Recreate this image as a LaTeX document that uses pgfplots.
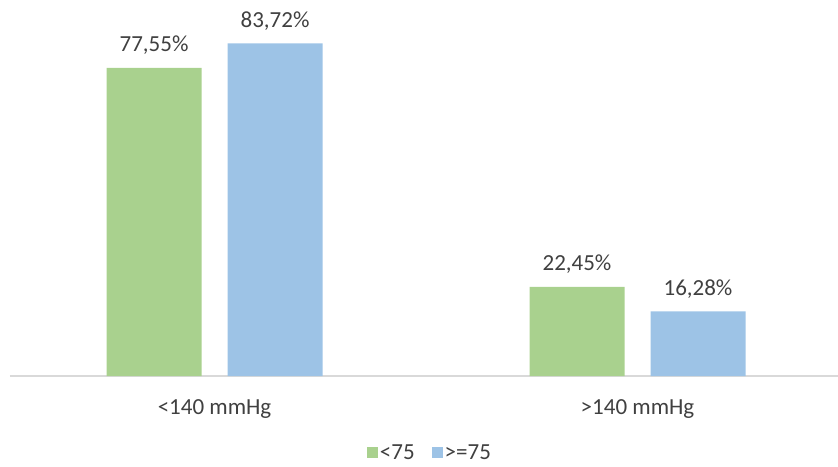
\documentclass[border=0pt]{standalone}
\usepackage{fontspec}
\setmainfont{Carlito}
\usepackage{pgfplots}
\pgfplotsset{compat=1.18}
\definecolor{bargreen}{HTML}{A9D18E}
\definecolor{barblue}{HTML}{9DC3E6}
\definecolor{labelgray}{HTML}{404040}
\definecolor{axisgray}{HTML}{D9D9D9}

\begin{document}
\begin{tikzpicture}
\begin{axis}[
  scale only axis, width=828pt, height=376pt,
  xmin=-0.4835, xmax=1.474, ymin=0, ymax=94.66,
  ybar=26pt, bar width=95pt,
  axis x line*=bottom, axis y line=none,
  x axis line style={-, draw=axisgray, line width=1.2pt},
  xtick=data, xticklabels={{<140 mmHg},{>140 mmHg}},
  xtick style={draw=none},
  xticklabel style={font=\fontsize{23}{27}\selectfont, text=labelgray, anchor=base, yshift=-34pt},
  nodes near coords={\pgfmathprintnumber{\pgfplotspointmeta}\%},
  /pgf/number format/.cd, use comma, fixed, fixed zerofill, precision=2, assume math mode=true,
  /pgfplots/.cd,
  every node near coord/.append style={font=\fontsize{23}{27}\selectfont, text=labelgray, anchor=base, yshift=16pt},
  legend columns=2,
  legend style={at={(axis description cs:0.5072,-0.2040)}, anchor=center, draw=none,
    font=\fontsize{23}{27}\selectfont, text=labelgray, inner sep=1pt,
    /tikz/every even column/.append style={column sep=15pt}},
  clip=false,
]
\addplot[fill=bargreen, draw=none,
  legend image code/.code={\fill[bargreen] (0pt,-5.5pt) rectangle (11pt,5.5pt);}]
  coordinates {(0,77.55) (1,22.45)};
\addplot[fill=barblue, draw=none,
  legend image code/.code={\fill[barblue] (0pt,-5.5pt) rectangle (11pt,5.5pt);}]
  coordinates {(0,83.72) (1,16.28)};
\legend{{<75},{>=75}}
\end{axis}
\pgfresetboundingbox
\path ([xshift=-10pt,yshift=-90pt]current axis.south west) rectangle (current axis.north east);
\end{tikzpicture}
\end{document}
